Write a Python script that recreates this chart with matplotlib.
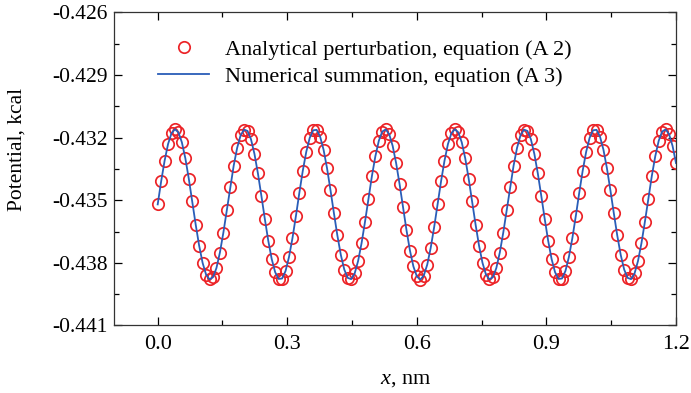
import numpy as np
import matplotlib
matplotlib.use("Agg")
import matplotlib.pyplot as plt
from matplotlib.ticker import MultipleLocator, FormatStrFormatter

plt.rcParams['font.family'] = ['Liberation Serif', 'DejaVu Serif']
plt.rcParams['mathtext.fontset'] = 'custom'
plt.rcParams['mathtext.rm'] = 'Liberation Serif'
plt.rcParams['mathtext.it'] = 'Liberation Serif:italic'

# sampled positions, nm (step 0.008)
x = np.arange(151) * 0.008

# potential values (kcal); pattern repeats after 81 samples
first_81 = [
    -0.43520, -0.43410, -0.43311, -0.43231, -0.43179, -0.43160, -0.43175, -0.43223,
    -0.43299, -0.43397, -0.43506, -0.43617, -0.43718, -0.43800, -0.43856, -0.43879,
    -0.43869, -0.43825, -0.43751, -0.43656, -0.43548, -0.43437, -0.43334, -0.43249,
    -0.43189, -0.43162, -0.43168, -0.43208, -0.43278, -0.43371, -0.43478, -0.43589,
    -0.43694, -0.43782, -0.43845, -0.43877, -0.43875, -0.43839, -0.43772, -0.43682,
    -0.43576, -0.43464, -0.43358, -0.43268, -0.43201, -0.43165, -0.43163, -0.43195,
    -0.43258, -0.43346, -0.43451, -0.43562, -0.43669, -0.43762, -0.43832, -0.43872,
    -0.43878, -0.43851, -0.43791, -0.43706, -0.43603, -0.43492, -0.43384, -0.43289,
    -0.43215, -0.43171, -0.43161, -0.43184, -0.43240, -0.43322, -0.43423, -0.43534,
    -0.43643, -0.43741, -0.43817, -0.43865, -0.43880, -0.43861, -0.43809, -0.43729,
    -0.43630,
]
potential = first_81 + first_81[:70]

fig = plt.figure(figsize=(6.91, 3.93), dpi=100)
ax = fig.add_axes([0.1657, 0.1718, 0.8126, 0.7969])

ax.plot(x, potential, 'o', ms=8.2, mfc='none', mec='#ec2327', mew=1.25,
        label='Analytical perturbation, equation (A 2)', zorder=2)
ax.plot(x, potential, '-', color='#2a5db8', lw=1.3,
        label='Numerical summation, equation (A 3)', zorder=3)

ax.set_xlim(-0.1, 1.2)
ax.set_ylim(-0.441, -0.426)
ax.xaxis.set_major_locator(MultipleLocator(0.3))
ax.xaxis.set_minor_locator(MultipleLocator(0.15))
ax.yaxis.set_major_locator(MultipleLocator(0.003))
ax.yaxis.set_minor_locator(MultipleLocator(0.0015))
ax.xaxis.set_major_formatter(FormatStrFormatter('%.1f'))
ax.yaxis.set_major_formatter(FormatStrFormatter('%.3f'))
ax.tick_params(which='both', direction='in', top=True, right=True, width=0.9)
ax.tick_params(which='major', length=6)
ax.tick_params(which='minor', length=3.5)
ax.tick_params(axis='x', labelsize=16, pad=7)
ax.tick_params(axis='y', labelsize=15.5, pad=5)
for s in ax.spines.values():
    s.set_linewidth(0.9)
    s.set_color('#333333')

ax.set_xlabel('$x$, nm', fontsize=16)
ax.set_ylabel('Potential, kcal', fontsize=15.5)
ax.xaxis.set_label_coords(0.519, -0.142)
ax.yaxis.set_label_coords(-0.157, 0.562)

ax.legend(loc='upper left', bbox_to_anchor=(0.05, 0.963), frameon=False, fontsize=16,
          handlelength=2.3, handletextpad=0.7, labelspacing=0.3, borderaxespad=0.3)

fig.savefig('out.png', dpi=100)
